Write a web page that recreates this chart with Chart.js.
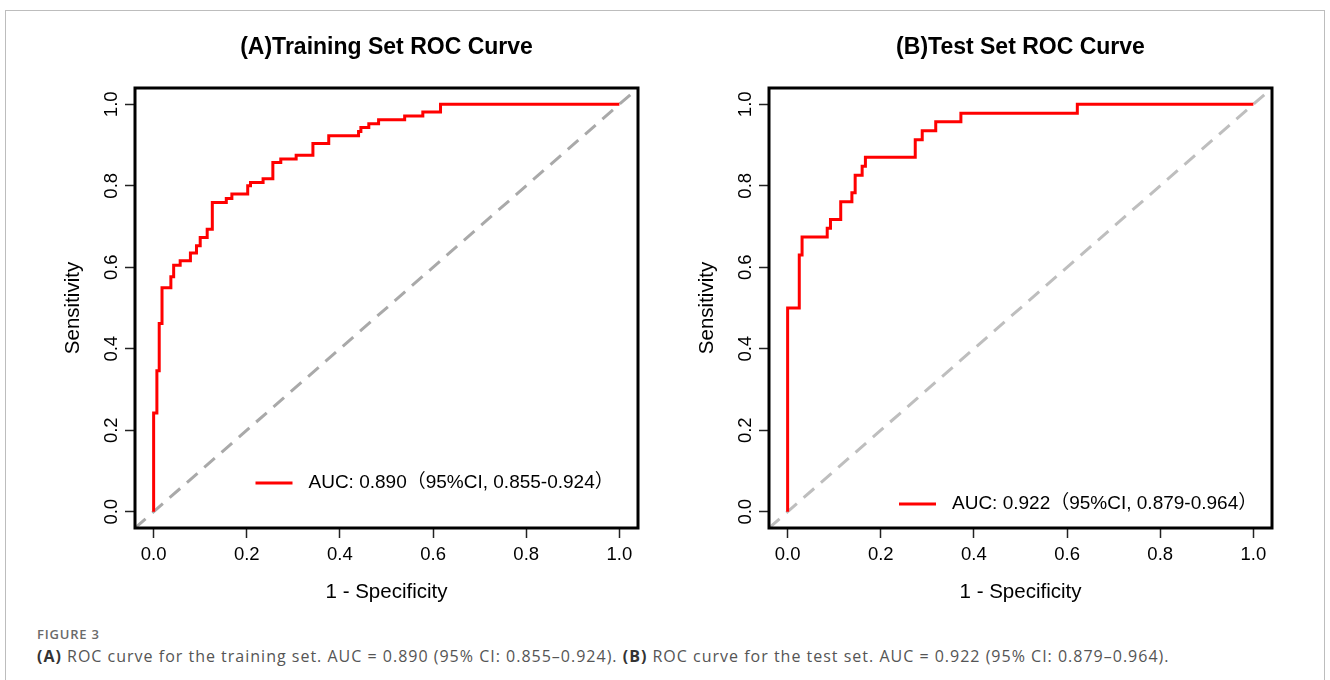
<!DOCTYPE html>
<html>
<head>
<meta charset="utf-8">
<title>ROC curves</title>
<script src="https://cdn.jsdelivr.net/npm/chart.js@4.4.1/dist/chart.umd.min.js"></script>
<style>
  html, body { margin: 0; padding: 0; background: #fff; }
  body { width: 1330px; height: 680px; position: relative; overflow: hidden; }
  .frame { position: absolute; left: 5px; top: 10px; width: 1320px; height: 720px; border: 1px solid #bdbdbd; box-sizing: border-box; }
  .panel { position: absolute; top: 0; }
  #panelA { left: 0; }
  #panelB { left: 634px; }
  .fig-label { position: absolute; left: 37px; top: 625px; font-family: "Open Sans", sans-serif; font-weight: 600; font-size: 13px; line-height: 18px; letter-spacing: 0.8px; color: #6a6a6a; }
  .fig-caption { position: absolute; left: 37px; top: 646px; font-family: "Open Sans", sans-serif; font-size: 16px; line-height: 21px; letter-spacing: 1px; color: #555; white-space: nowrap; }
  .fig-caption b { color: #333; }
</style>
</head>
<body>
<div class="frame"></div>
<div class="panel" id="panelA"><canvas id="rocTrain" width="665" height="610"></canvas></div>
<div class="panel" id="panelB"><canvas id="rocTest" width="665" height="610"></canvas></div>
<div class="fig-label">FIGURE 3</div>
<div class="fig-caption"><b>(A)</b> ROC curve for the training set. AUC = 0.890 (95% CI: 0.855&#8211;0.924). <b>(B)</b> ROC curve for the test set. AUC = 0.922 (95% CI: 0.879&#8211;0.964).</div>

<script>
// training set ROC (1 - specificity, sensitivity)
const trainFPR = [0, 0, 0.007, 0.012, 0.018, 0.037, 0.043, 0.057, 0.079, 0.092, 0.100, 0.115, 0.126, 0.156, 0.168, 0.202, 0.208, 0.235, 0.256, 0.273, 0.306, 0.342, 0.376, 0.440, 0.445, 0.462, 0.483, 0.539, 0.578, 0.616, 1.0];
const trainTPR = [0, 0.242, 0.346, 0.462, 0.550, 0.577, 0.605, 0.616, 0.635, 0.653, 0.673, 0.693, 0.759, 0.769, 0.780, 0.800, 0.808, 0.817, 0.857, 0.866, 0.875, 0.904, 0.923, 0.933, 0.943, 0.952, 0.962, 0.971, 0.981, 1.0, 1.0];

// test set ROC
const testFPR = [0, 0, 0.025, 0.031, 0.085, 0.092, 0.114, 0.138, 0.145, 0.160, 0.167, 0.274, 0.289, 0.318, 0.372, 0.622, 1.0];
const testTPR = [0, 0.500, 0.630, 0.674, 0.696, 0.717, 0.761, 0.783, 0.826, 0.848, 0.870, 0.913, 0.935, 0.957, 0.978, 1.0, 1.0];

const trainAUC = "AUC: 0.890\uFF0895%CI, 0.855-0.924\uFF09";
const testAUC = "AUC: 0.922\uFF0895%CI, 0.879-0.964\uFF09";

const tickValues = [0, 0.2, 0.4, 0.6, 0.8, 1.0];
const axisRange = [-0.04, 1.04]; // R adds 4% on each side

const FONT = '"Liberation Sans", Arial, "Noto Sans CJK SC", sans-serif';
Chart.defaults.font.family = FONT;
Chart.defaults.color = "#000";

// thick frame round the plot region
const plotBox = {
  id: "plotBox",
  afterDatasetsDraw(chart) {
    const ctx = chart.ctx, a = chart.chartArea;
    ctx.save();
    ctx.strokeStyle = "#000";
    ctx.lineWidth = 3;
    ctx.strokeRect(a.left, a.top, a.right - a.left, a.bottom - a.top);
    ctx.restore();
  }
};

// legend like R's legend(..., bty = "n")
const rocLegend = {
  id: "rocLegend",
  afterDraw(chart, args, opts) {
    const ctx = chart.ctx, a = chart.chartArea;
    const x = a.left + opts.dx, y = a.bottom - opts.dy;
    ctx.save();
    ctx.strokeStyle = "#ff0000";
    ctx.lineWidth = 3;
    ctx.beginPath();
    ctx.moveTo(x, y);
    ctx.lineTo(x + 37, y);
    ctx.stroke();
    ctx.fillStyle = "#000";
    ctx.font = "19px " + FONT;
    ctx.textBaseline = "middle";
    ctx.fillText(opts.text, x + 53, y);
    ctx.restore();
  }
};

function makeRoc(id, title, fpr, tpr, aucText, diagColor, legendDx, legendDy) {
  const curve = fpr.map(function (x, i) { return { x: x, y: tpr[i] }; });
  const diagonal = axisRange.map(function (v) { return { x: v, y: v }; });

  const axisCommon = {
    type: "linear",
    min: axisRange[0],
    max: axisRange[1],
    afterBuildTicks: function (scale) {
      scale.ticks = tickValues.map(function (v) { return { value: v }; });
    },
    grid: { drawOnChartArea: false, drawTicks: true, tickLength: 10, tickColor: "#222", tickWidth: 1.5 },
    border: { display: false }
  };

  return new Chart(document.getElementById(id), {
    type: "scatter",
    data: {
      datasets: [
        {
          label: aucText,
          data: curve,
          showLine: true,
          stepped: "before", // horizontal first, then the rise
          borderColor: "#ff0000",
          borderWidth: 3,
          pointRadius: 0,
          order: 0
        },
        {
          label: "reference",
          data: diagonal,
          showLine: true,
          borderColor: diagColor,
          borderWidth: 3,
          borderDash: [14, 9],
          pointRadius: 0,
          order: 1
        }
      ]
    },
    options: {
      responsive: false,
      animation: false,
      layout: { padding: { left: 0, right: 27, top: 0, bottom: 0 } },
      plugins: {
        legend: { display: false },
        tooltip: { enabled: false },
        title: {
          display: true,
          text: title,
          fullSize: false,
          color: "#000",
          font: { size: 23, weight: "bold" },
          padding: { top: 33.5, bottom: 26.9 }
        },
        rocLegend: { text: aucText, dx: legendDx, dy: legendDy }
      },
      scales: {
        x: Object.assign({}, axisCommon, {
          position: "bottom",
          afterFit: function (scale) { scale.height = 82; },
          ticks: {
            font: { size: 18.5 },
            padding: 6,
            maxRotation: 0,
            callback: function (v) { return v.toFixed(1); }
          },
          title: { display: true, text: "1 - Specificity", font: { size: 20.5 }, padding: { top: 0, bottom: 5 } }
        }),
        y: Object.assign({}, axisCommon, {
          position: "left",
          afterFit: function (scale) { scale.width = 135; },
          ticks: {
            font: { size: 18.5 },
            padding: 0,
            minRotation: 90,
            maxRotation: 90,
            crossAlign: "center",
            callback: function (v) { return v.toFixed(1); }
          },
          title: { display: true, text: "Sensitivity", font: { size: 20.5 }, padding: { top: 61, bottom: 0 } }
        })
      }
    },
    plugins: [plotBox, rocLegend]
  });
}

makeRoc("rocTrain", "(A)Training Set ROC Curve", trainFPR, trainTPR, trainAUC, "#a9a9a9", 120.5, 45);
makeRoc("rocTest", "(B)Test Set ROC Curve", testFPR, testTPR, testAUC, "#bebebe", 130, 24);
</script>
</body>
</html>
